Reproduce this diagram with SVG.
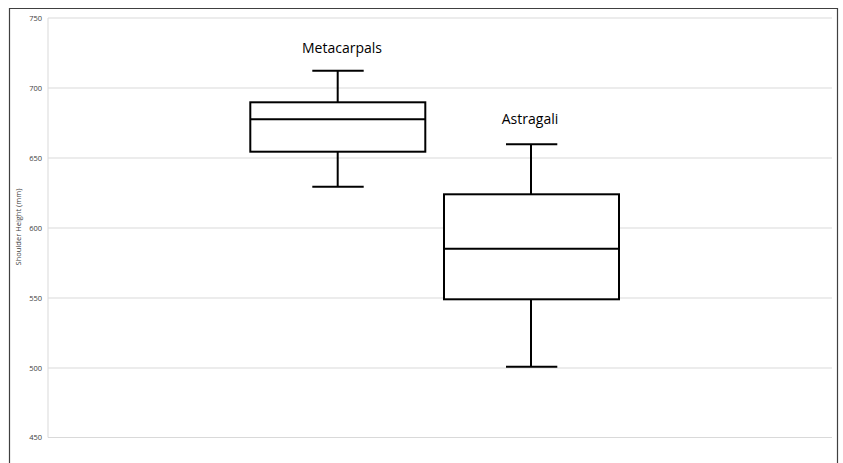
<svg xmlns="http://www.w3.org/2000/svg" width="843" height="463" viewBox="0 0 843 463">
<style>
.grid{stroke:#d9d9d9;stroke-width:1;fill:none}
.tick{font-family:"Open Sans","Liberation Sans",sans-serif;font-size:7.5px;fill:#404040;text-anchor:end}
.axt{font-family:"Open Sans","Liberation Sans",sans-serif;font-size:7.5px;fill:#404040;text-anchor:middle}
.box{fill:#fff;stroke:#000;stroke-width:2}
.wh{stroke:#000;stroke-width:2;fill:none}
.lbl{font-family:"Open Sans","Liberation Sans",sans-serif;font-size:14px;fill:#000;text-anchor:middle}
</style>
<rect x="0" y="0" width="843" height="463" fill="#fff"/>
<path d="M9.5,470 V8.5 H837.5 V470" fill="none" stroke="#404040" stroke-width="1.2"/>
<g id="grid">
<line class="grid" x1="48" y1="18" x2="832" y2="18"/>
<line class="grid" x1="48" y1="88" x2="832" y2="88"/>
<line class="grid" x1="48" y1="158" x2="832" y2="158"/>
<line class="grid" x1="48" y1="228" x2="832" y2="228"/>
<line class="grid" x1="48" y1="298" x2="832" y2="298"/>
<line class="grid" x1="48" y1="368" x2="832" y2="368"/>
<line class="grid" x1="48" y1="437.5" x2="832" y2="437.5"/>
<line class="grid" x1="48" y1="18" x2="48" y2="437.5"/>
</g>
<g id="axis">
<text class="tick" x="42" y="20.5">750</text>
<text class="tick" x="42" y="90.5">700</text>
<text class="tick" x="42" y="160.5">650</text>
<text class="tick" x="42" y="230.5">600</text>
<text class="tick" x="42" y="300.5">550</text>
<text class="tick" x="42" y="370.5">500</text>
<text class="tick" x="42" y="440">450</text>
<text class="axt" transform="translate(20.5,227) rotate(-90)">Shoulder Height (mm)</text>
</g>
<g id="connectors">
<line class="wh" x1="337.7" y1="70.7" x2="337.7" y2="102.3"/>
<line class="wh" x1="312.3" y1="70.7" x2="363.7" y2="70.7"/>
<line class="wh" x1="337.7" y1="151.7" x2="337.7" y2="186.7"/>
<line class="wh" x1="312.3" y1="186.7" x2="363.7" y2="186.7"/>
<line class="wh" x1="531" y1="144.3" x2="531" y2="194.3"/>
<line class="wh" x1="506" y1="144.3" x2="557.3" y2="144.3"/>
<line class="wh" x1="531" y1="299.3" x2="531" y2="366.7"/>
<line class="wh" x1="506" y1="366.7" x2="557.3" y2="366.7"/>
</g>
<g id="metacarpals">
<rect class="box" x="250.3" y="102.3" width="175" height="49.4"/>
<line class="wh" x1="250.3" y1="119.3" x2="425.3" y2="119.3"/>
<text class="lbl" x="342" y="52.5">Metacarpals</text>
</g>
<g id="astragali">
<rect class="box" x="444" y="194.3" width="175" height="105"/>
<line class="wh" x1="444" y1="248.7" x2="619" y2="248.7"/>
<text class="lbl" x="530" y="124">Astragali</text>
</g>
</svg>
